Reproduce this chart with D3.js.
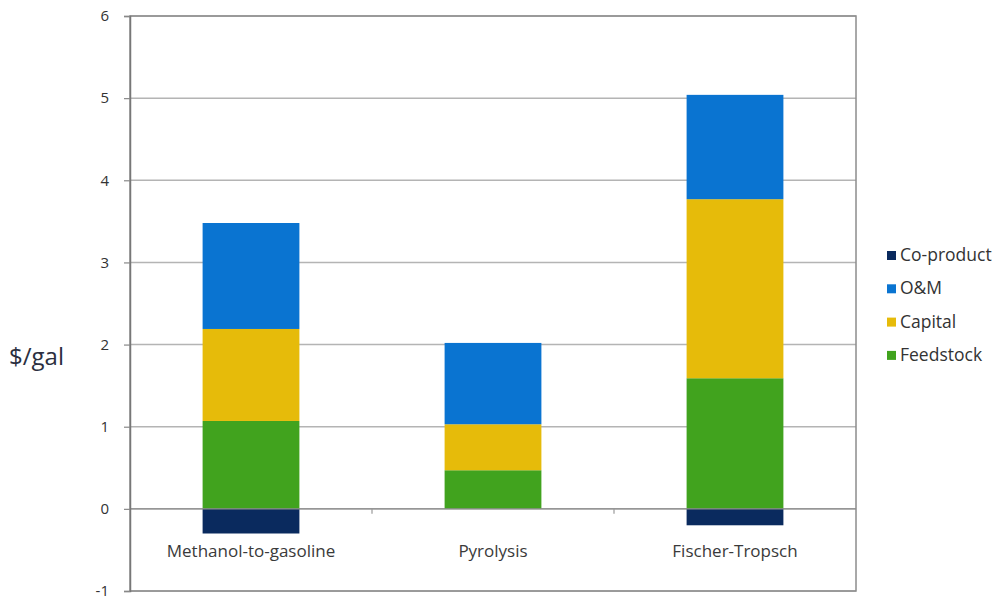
<!DOCTYPE html>
<html>
<head>
<meta charset="utf-8">
<script src="https://cdn.jsdelivr.net/npm/d3@7/dist/d3.min.js"></script>
<style>
  body { margin: 0; background: #fff; }
  svg { display: block; font-family: "Open Sans", "DejaVu Sans", sans-serif; }
</style>
</head>
<body>
<svg id="chart" width="995" height="598"></svg>
<script>
// Cost breakdown per gallon of fuel, by conversion pathway
const categories = ["Methanol-to-gasoline", "Pyrolysis", "Fischer-Tropsch"];
const feedstock = [1.07, 0.47, 1.59];
const capital   = [1.12, 0.56, 2.18];
const om        = [1.29, 0.99, 1.27];
const coproduct = [-0.30, 0, -0.20];
const yTicks = [-1, 0, 1, 2, 3, 4, 5, 6];

const seriesNames = ["Feedstock", "Capital", "O&M", "Co-product"];
const seriesValues = [feedstock, capital, om, coproduct];
const colors = { "Feedstock": "#41a31e", "Capital": "#e6bb0a", "O&M": "#0a74d1", "Co-product": "#0a2a5e" };
const legendOrder = ["Co-product", "O&M", "Capital", "Feedstock"];

const rows = categories.map((c, i) => {
  const r = { category: c };
  seriesNames.forEach((s, k) => r[s] = seriesValues[k][i]);
  return r;
});

const svg = d3.select("#chart");
const margin = { left: 130, right: 139, top: 16, bottom: 7 };
const W = 995, H = 598;
const innerW = W - margin.left - margin.right;
const innerH = H - margin.top - margin.bottom;

const x = d3.scaleBand().domain(categories).range([margin.left, margin.left + innerW]).paddingInner(0.6).paddingOuter(0.3);
const xb = d3.scaleBand().domain(categories).range([margin.left, margin.left + innerW]);
const y = d3.scaleLinear().domain([-1, 6]).range([margin.top + innerH, margin.top]);

// horizontal gridlines
svg.append("g").selectAll("line").data(yTicks).join("line")
  .attr("x1", margin.left).attr("x2", margin.left + innerW)
  .attr("y1", d => y(d)).attr("y2", d => y(d))
  .attr("stroke", "#b4b4b4").attr("stroke-width", 1.5);

// stacked bars (positives stacked upward from zero, negatives downward)
const stack = d3.stack().keys(seriesNames).offset(d3.stackOffsetDiverging);
const layers = stack(rows);
svg.append("g").selectAll("g").data(layers).join("g")
  .attr("fill", d => colors[d.key])
  .selectAll("rect").data(d => d).join("rect")
  .attr("x", d => x(d.data.category))
  .attr("width", x.bandwidth())
  .attr("y", d => y(Math.max(d[0], d[1])))
  .attr("height", d => Math.abs(y(d[0]) - y(d[1])));

// zero line with category separators
svg.append("line")
  .attr("x1", margin.left).attr("x2", margin.left + innerW)
  .attr("y1", y(0)).attr("y2", y(0))
  .attr("stroke", "#8c8c8c").attr("stroke-width", 1.2);
svg.append("g").selectAll("line").data(categories.slice(1)).join("line")
  .attr("x1", d => xb(d)).attr("x2", d => xb(d))
  .attr("y1", y(0)).attr("y2", y(0) + 5)
  .attr("stroke", "#999").attr("stroke-width", 1.2);

// frame
svg.append("rect")
  .attr("x", margin.left).attr("y", margin.top)
  .attr("width", innerW).attr("height", innerH)
  .attr("fill", "none").attr("stroke", "#8c8c8c").attr("stroke-width", 1.5);

// y axis
const yAxis = d3.axisLeft(y).tickValues(yTicks).tickSize(6).tickPadding(15).tickFormat(d => d < 0 ? "-" + Math.abs(d) : String(d));
const ya = svg.append("g").attr("transform", `translate(${margin.left},0)`).call(yAxis);
ya.select(".domain").attr("stroke", "#777").attr("stroke-width", 1.5);
ya.selectAll(".tick line").attr("stroke", "#888").attr("stroke-width", 1.2);
ya.selectAll(".tick text").attr("font-size", 15).attr("fill", "#333")
  .attr("font-family", "'Open Sans', sans-serif");

// category labels
svg.append("g").selectAll("text").data(categories).join("text")
  .attr("x", d => xb(d) + xb.bandwidth() / 2)
  .attr("y", y(0) + 48)
  .attr("text-anchor", "middle")
  .attr("font-size", 17).attr("fill", "#3a3a3a")
  .text(d => d);

// y axis title
svg.append("text")
  .attr("x", 9).attr("y", 365)
  .attr("font-size", 24).attr("fill", "#2b2f40")
  .text("$/gal");

// legend
const lg = svg.append("g").attr("transform", "translate(887,255)");
const item = lg.selectAll("g").data(legendOrder).join("g")
  .attr("transform", (d, i) => `translate(0,${i * 33.3})`);
item.append("rect").attr("x", 0).attr("y", -4).attr("width", 9).attr("height", 9)
  .attr("fill", d => colors[d]);
item.append("text").attr("x", 13).attr("y", 6)
  .attr("font-size", 17.5).attr("fill", "#333")
  .text(d => d);
</script>
</body>
</html>
